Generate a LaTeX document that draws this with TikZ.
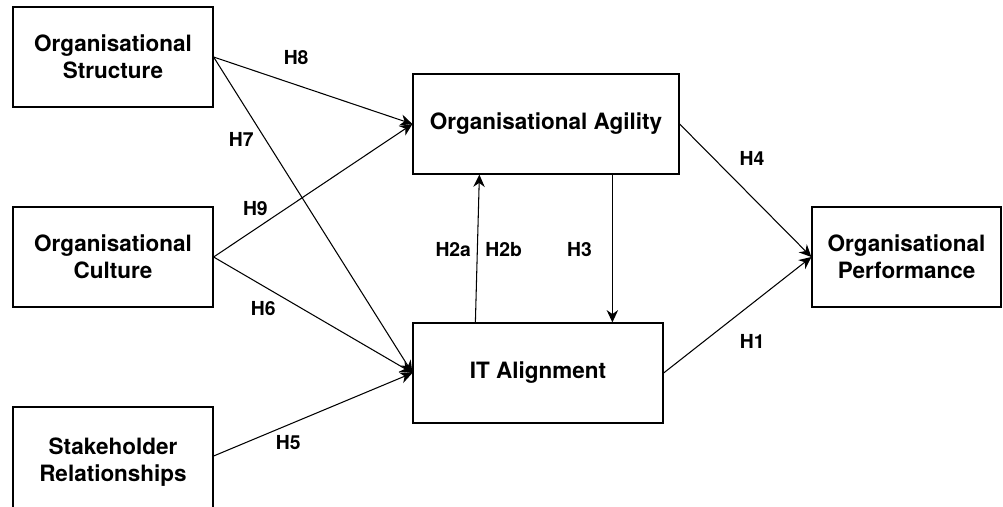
\documentclass[tikz,border=0pt]{standalone}
\usepackage{fontspec}
\setmainfont{TeX Gyre Heros}
\usetikzlibrary{arrows.meta}

\begin{document}
\begin{tikzpicture}[
        box/.style={draw, line width=0.7pt, align=center, font=\fontsize{12.8}{15.3}\selectfont\bfseries, minimum height=2cm},
        hyp/.style={font=\fontsize{11}{13}\selectfont\bfseries},
        >={Stealth[length=7pt,width=6.5pt]}, line width=0.6pt]
    \useasboundingbox (0,0) rectangle (20.06,-10.12);

    \node[box, minimum width=4cm] (Struct) at (2.26,-1.14) {Organisational\\Structure};
    \node[box, minimum width=4cm] (Cult) at (2.26,-5.14) {Organisational\\Culture};
    \node[box, minimum width=4cm, minimum height=2.2cm] (Stake) at (2.26,-9.24) {Stakeholder\\Relationships};
    \node[box, minimum width=5.32cm] (Agil) at (10.92,-2.48) {Organisational Agility};
    \node[box, minimum width=5cm] (ITA) at (10.76,-7.46) {IT Alignment};
    \node[box, minimum width=3.78cm] (Perf) at (18.13,-5.14) {Organisational\\Performance};

    \draw[->] (Struct.east) to node[hyp, pos=0.415, above=8pt] {H8} (Agil.west);
    \draw[->] (Struct.east) to node[hyp, pos=0.26, left=3pt] {H7} (ITA.west);
    \draw[->] (Cult.east) to node[hyp, pos=0.21, above=4pt] {H9} (Agil.west);
    \draw[->] (Cult.east) to node[hyp, pos=0.25, below=5pt] {H6} (ITA.west);
    \draw[->] ([yshift=0.12cm]Stake.east) to node[hyp, pos=0.375, below=2.5pt] {H5} (ITA.west);
    \draw[->] ([xshift=1.26cm]ITA.north west) to node[hyp, pos=0.49, left] {H2a} node[hyp, pos=0.49, right=1pt] {H2b} ([xshift=1.34cm]Agil.south west);
    \draw[->] ([xshift=4cm]Agil.south west) to node[hyp, pos=0.51, left=8pt] {H3} ([xshift=4cm]ITA.north west);
    \draw[->] (Agil.east) to node[hyp, pos=0.26, right=11pt] {H4} (Perf.west);
    \draw[->] (ITA.east) to node[hyp, pos=0.6, below=14pt] {H1} (Perf.west);
\end{tikzpicture}
\end{document}
